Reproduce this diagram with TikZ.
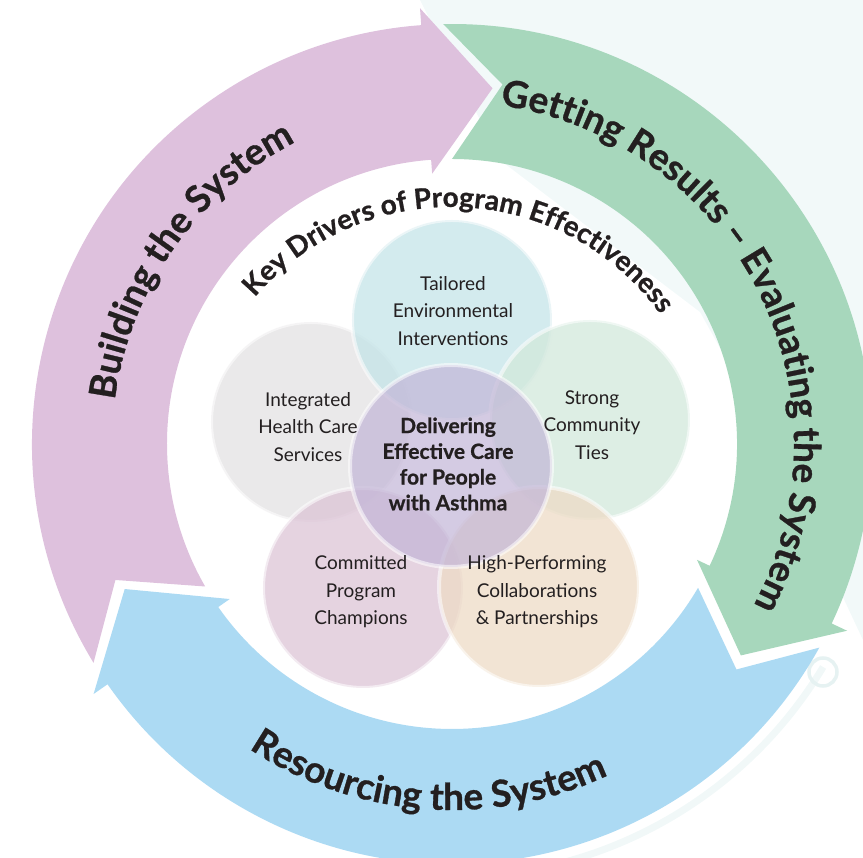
\documentclass[tikz,border=0pt]{standalone}
\usepackage{fontspec}
\setmainfont{Lato}
\newfontfamily\heavyfont{Lato}[BoldFeatures={FakeBold=0.8}]
\usetikzlibrary{decorations.text}
\definecolor{purp}{HTML}{DEC1DD}
\definecolor{grn}{HTML}{A7D7BC}
\definecolor{blu}{HTML}{ACDAF3}
\definecolor{txt}{HTML}{231F20}
\definecolor{cTail}{HTML}{C4E4E8}
\definecolor{cInt}{HTML}{E3E2E3}
\definecolor{cStr}{HTML}{D2E8DB}
\definecolor{cCom}{HTML}{DCC4D6}
\definecolor{cHig}{HTML}{EEDBC6}
\definecolor{cCen}{HTML}{C2B5D7}
\definecolor{pale}{HTML}{F2F9F9}
\definecolor{paleline}{HTML}{F1F8F8}
\definecolor{palering}{HTML}{E6F2F2}
\newcommand\ringfont{\fontsize{37}{40}\selectfont\heavyfont\bfseries}
\newcommand\keyfont{\fontsize{28}{31}\selectfont\heavyfont\bfseries}
\tikzset{
  bubble/.style={circle, minimum size=200pt, inner sep=0pt, fill=#1,
    fill opacity=0.75, draw=white, draw opacity=0.55, line width=4pt},
  bubtext/.style={align=center, text=txt, font=\fontsize{19}{27.5}\selectfont},
  centertext/.style={align=center, text=txt, font=\fontsize{21}{25.7}\selectfont\heavyfont\bfseries},
}
\begin{document}
\begin{tikzpicture}[x=1pt,y=1pt]
\useasboundingbox (-452,-414) rectangle (411,444);
\clip (-452,-414) rectangle (411,444);
% pale background watermark
\fill[pale] (-32,444) -- (411,444) -- (411,-196) -- (308,24) -- (248,132) -- (48,284) -- cycle;
\draw[paleline, line width=7pt] (-31:433pt) arc[start angle=-31, end angle=-84, radius=433pt];
\draw[palering, line width=3.5pt] (371,-228) circle[radius=14pt];
% ring arrows
\fill[purp] (211.4:420pt) arc[start angle=211.4, end angle=94.2, radius=420pt]
  -- (94.2:437pt) -- (83.5:358pt) -- (94.2:271pt) -- (94.2:285pt)
  arc[start angle=94.2, end angle=210, radius=285pt] -- (202:363pt) -- cycle;
\fill[grn] (91.2:420pt) arc[start angle=91.2, end angle=-25.3, radius=420pt]
  -- (-25.3:437pt) -- (-36.2:358pt) -- (-25.3:271pt) -- (-25.3:285pt)
  arc[start angle=-25.3, end angle=90, radius=285pt] -- (82:363pt) -- cycle;
\fill[blu] (-29:420pt) arc[start angle=-29, end angle=-145.1, radius=420pt]
  -- (-145.1:437pt) -- (-156.1:358pt) -- (-145.1:271pt) -- (-145.1:285pt)
  arc[start angle=-145.1, end angle=-30.3, radius=285pt] -- (-38.4:363pt) -- cycle;
% ring texts
\path[decorate, decoration={text along path, text={|\ringfont|Building the System},
  text align=center, text color=txt}]
  (185:340pt) arc[start angle=185, end angle=105, radius=340pt];
\path[decorate, decoration={text along path, text={|\ringfont|Getting Results – Evaluating the System},
  text align=center, text color=txt}]
  (100:342pt) arc[start angle=100, end angle=-46.2, radius=342pt];
\path[decorate, decoration={text along path, text={|\ringfont|Resourcing the System},
  text align=center, text color=txt}]
  (225:366pt) arc[start angle=225, end angle=306.6, radius=366pt];
\begin{scope}[shift={(-1,-21)}]
\path[decorate, decoration={text along path, text={|\keyfont|Key Drivers of Program Effectiveness},
  text align=center, text color=txt}]
  (159:258pt) arc[start angle=159, end angle=16.2, radius=258pt];
\end{scope}
% bubbles
\node[bubble=cInt] (integ) at (-141,22) {};
\node[bubble=cTail] (tailor) at (0,124) {};
\node[bubble=cStr] (strong) at (138,24) {};
\node[bubble=cCom] (commit) at (-89,-144) {};
\node[bubble=cHig] (highp) at (87,-143) {};
\node[bubble=cCen, fill opacity=0.7, minimum size=202pt] (deliver) at (-1,-22) {};
% bubble texts
\node[bubtext] (tTailor) at (1,133) {Tailored\\Environmental\\Interventions};
\node[bubtext] (tInteg) at (-144,17) {Integrated\\Health Care\\Services};
\node[bubtext] (tStrong) at (140,19) {Strong\\Community\\Ties};
\node[bubtext] (tCommit) at (-91,-148) {Committed\\Program\\Champions};
\node[bubtext] (tHighp) at (85,-148) {High-Performing\\Collaborations\\\& Partnerships};
\node[centertext] (tDeliver) at (-4,-20) {Delivering\\Effective Care\\for People\\with Asthma};
\end{tikzpicture}
\end{document}
